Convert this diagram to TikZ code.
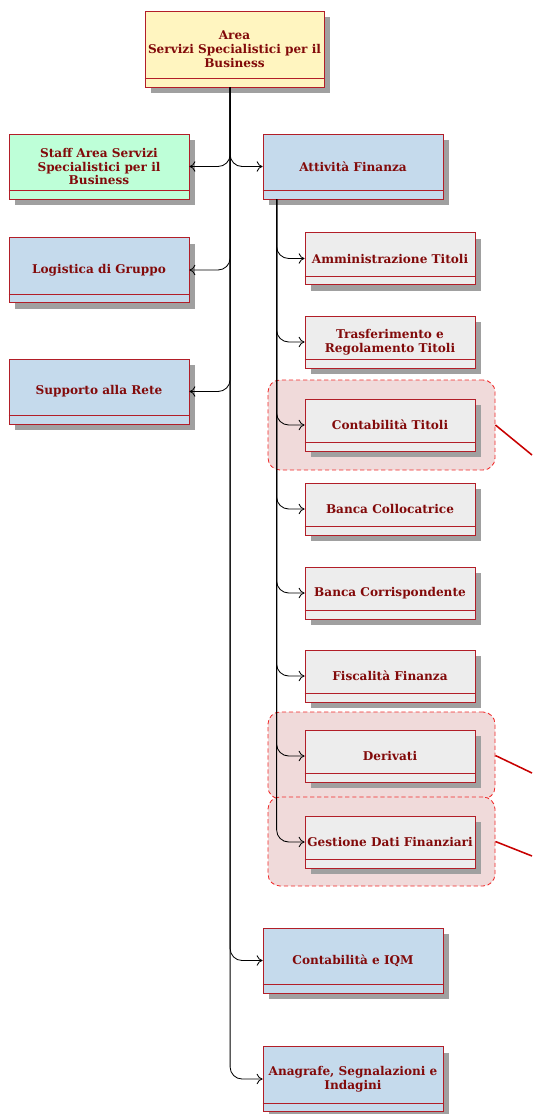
\documentclass[tikz,border=0pt]{standalone}
\usepackage{fontspec}
\setmainfont{DejaVu Serif}
\usetikzlibrary{shadows,arrows.meta}
\definecolor{testo}{RGB}{130,10,10}
\definecolor{bordo}{RGB}{178,30,40}
\definecolor{giallo}{RGB}{255,245,192}
\definecolor{menta}{RGB}{190,255,216}
\definecolor{azzurro}{RGB}{197,218,236}
\definecolor{grigio}{RGB}{237,237,237}
\definecolor{rosa}{RGB}{240,218,218}
\definecolor{rossogruppo}{RGB}{240,40,40}
\definecolor{rossolinea}{RGB}{200,0,0}
\definecolor{ombra}{RGB}{160,160,160}
\begin{document}
\begin{tikzpicture}
                            [x=0.25mm, y=-0.25mm,
                            font=\fontsize{8.6}{9.8}\selectfont\bfseries,
                            box/.style = {rectangle, draw=bordo, line width=0.5pt,
                                        text=testo, align=center, inner sep=1pt,
                                        drop shadow={shadow xshift=1.5mm, shadow yshift=-1.5mm,
                                                     fill=ombra, opacity=1},
                                        append after command={([yshift=2.25mm]\tikzlastnode.south west)
                                                     edge[draw=bordo, line width=0.5pt] ([yshift=2.25mm]\tikzlastnode.south east)}},
                            grande/.style = {box, minimum width=45mm, minimum height=16.25mm},
                            piccolo/.style = {box, fill=grigio, minimum width=42.5mm, minimum height=13mm},
                            gruppo/.style = {rectangle, rounded corners=3mm, draw=rossogruppo,
                                        densely dashed, line width=0.6pt, fill=rosa,
                                        minimum width=56.75mm},
                            ramo/.style = {-{To[length=1.5mm, width=2.6mm]}, rounded corners=3mm, line width=0.6pt},
                            legame/.style = {draw=rossolinea, line width=1.1pt}]
                            \useasboundingbox (0,0) rectangle (532,1114);
                            % Gruppi evidenziati
                            \node[gruppo, minimum height=22.5mm] (gCT) at (381.5,425) {};
                            \node[gruppo, minimum height=21.75mm] (gDer) at (381.5,755.5) {};
                            \node[gruppo, minimum height=22.25mm] (gGDF) at (381.5,841.5) {};
                            % Area
                            \node[box, fill=giallo, minimum width=44.75mm, minimum height=19mm] (Area) at (234.5,49)
                                {Area\\Servizi Specialistici per il\\Business};
                            % Colonna sinistra
                            \node[grande, fill=menta] (Staff) at (99,166.5) {Staff Area Servizi\\Specialistici per il\\Business};
                            \node[grande, fill=azzurro] (Log) at (99,270) {Logistica di Gruppo};
                            \node[grande, fill=azzurro] (Rete) at (99,391.5) {Supporto alla Rete};
                            % Colonna destra
                            \node[grande, fill=azzurro] (AF) at (353,166.5) {Attività Finanza};
                            \node[grande, fill=azzurro] (IQM) at (353,960.5) {Contabilità e IQM};
                            \node[grande, fill=azzurro] (Anag) at (353,1079) {Anagrafe, Segnalazioni e\\Indagini};
                            % Uffici di Attivita Finanza
                            \node[piccolo] (AT) at (390,258.5) {Amministrazione Titoli};
                            \node[piccolo] (TR) at (390,342) {Trasferimento e\\Regolamento Titoli};
                            \node[piccolo] (CT) at (390,425) {Contabilità Titoli};
                            \node[piccolo] (BCo) at (390,509) {Banca Collocatrice};
                            \node[piccolo] (BCr) at (390,593) {Banca Corrispondente};
                            \node[piccolo] (FF) at (390,676) {Fiscalità Finanza};
                            \node[piccolo] (Der) at (390,756) {Derivati};
                            \node[piccolo] (GDF) at (390,842) {Gestione Dati Finanziari};
                            % Rami dell'Area
                            \draw[ramo] ([xshift=-1.1mm]Area.south) |- (Staff.east);
                            \draw[ramo] ([xshift=-1.1mm]Area.south) |- (Log.east);
                            \draw[ramo] ([xshift=-1.1mm]Area.south) |- (Rete.east);
                            \draw[ramo] ([xshift=-1.1mm]Area.south) |- (AF.west);
                            \draw[ramo] ([xshift=-1.1mm]Area.south) |- (IQM.west);
                            \draw[ramo] ([xshift=-1.1mm]Area.south) |- (Anag.west);
                            % Rami di Attivita Finanza
                            \draw[ramo] ([xshift=3.5mm]AF.south west) |- (AT.west);
                            \draw[ramo] ([xshift=3.5mm]AF.south west) |- (TR.west);
                            \draw[ramo] ([xshift=3.5mm]AF.south west) |- (CT.west);
                            \draw[ramo] ([xshift=3.5mm]AF.south west) |- (BCo.west);
                            \draw[ramo] ([xshift=3.5mm]AF.south west) |- (BCr.west);
                            \draw[ramo] ([xshift=3.5mm]AF.south west) |- (FF.west);
                            \draw[ramo] ([xshift=3.5mm]AF.south west) |- (Der.west);
                            \draw[ramo] ([xshift=3.5mm]AF.south west) |- (GDF.west);
                            % Collegamenti verso destra
                            \coordinate (uscitaCT) at (532,455);
                            \coordinate (uscitaDer) at (532,773);
                            \coordinate (uscitaGDF) at (532,856);
                            \draw[legame] (gCT.east) -- (uscitaCT);
                            \draw[legame] (gDer.east) -- (uscitaDer);
                            \draw[legame] (gGDF.east) -- (uscitaGDF);
                        \end{tikzpicture}
\end{document}
